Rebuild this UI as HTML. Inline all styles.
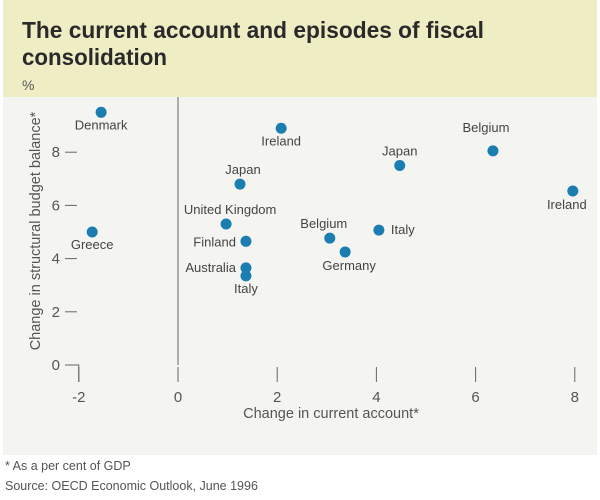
<!DOCTYPE html>
<html><head><meta charset="utf-8"><style>
body{margin:0;width:600px;height:495px;background:#fff;font-family:"Liberation Sans",sans-serif;overflow:hidden}
</style></head><body>
<svg width="600" height="495" xmlns="http://www.w3.org/2000/svg">
<rect x="3" y="0" width="594" height="97" fill="#eeedc4"/>
<rect x="3" y="97" width="594" height="358" fill="#f4f4f1"/>
<text x="22" y="38" font-size="23" font-weight="bold" fill="#2a2a2a" textLength="462" lengthAdjust="spacingAndGlyphs">The current account and episodes of fiscal</text>
<text x="22" y="65" font-size="23" font-weight="bold" fill="#2a2a2a" textLength="145" lengthAdjust="spacingAndGlyphs">consolidation</text>
<text x="22" y="90" font-size="14" fill="#555">%</text>
<text transform="translate(40,231) rotate(-90)" text-anchor="middle" font-size="14.5" fill="#555">Change in structural budget balance*</text>
<text x="331" y="418" text-anchor="middle" font-size="14.5" fill="#555">Change in current account*</text>
<text x="5" y="470" font-size="12.5" fill="#555">*  As a per cent of GDP</text>
<text x="5" y="490" font-size="12.5" fill="#555">Source: OECD Economic Outlook, June 1996</text>
<g id="axes"></g>
<g id="marks"></g>
</svg>
<script>
const countries=["Denmark","Greece","Ireland","Japan","United Kingdom","Finland","Australia","Italy","Belgium","Germany","Italy","Japan","Belgium","Ireland"];
const xValues=[-1.55,-1.73,2.08,1.25,0.97,1.37,1.37,1.37,3.06,3.37,4.05,4.47,6.35,7.96];
const yValues=[9.5,5.0,8.9,6.8,5.3,4.65,3.65,3.35,4.77,4.25,5.07,7.5,8.05,6.54];
const xTicks=[-2,0,2,4,6,8];
const yTicks=[0,2,4,6,8];
const labelOffsets=[[0,17,"s"],[0,17,"s"],[0,17,"s"],[3,-10,"m"],[4,-10,"m"],[-10,5,"e"],[-10,4,"e"],[0,17,"s"],[-6,-10,"m"],[4,18,"s"],[12,4,"st"],[0,-10,"m"],[-7,-19,"m"],[-6,18,"m"]];
const NS="http://www.w3.org/2000/svg";
const xs=v=>178+v*49.6, ys=v=>365-v*26.6;
const ax=document.getElementById('axes'), mk=document.getElementById('marks');
function el(t,a,p){const e=document.createElementNS(NS,t);for(const k in a)e.setAttribute(k,a[k]);p.appendChild(e);return e;}
const zl=el('line',{x1:xs(0),x2:xs(0),y1:97,y2:365,stroke:'#666','stroke-width':1},ax);


const cr=el('polyline',{points:`${xs(-2)-12},${ys(0)} ${xs(-2)},${ys(0)} ${xs(-2)},${ys(0)+17}`,fill:'none',stroke:'#666'},ax);


xTicks.forEach(v=>{
 const l=el('line',{x1:xs(v),x2:xs(v),y1:ys(0)+2,y2:ys(0)+17,stroke:'#666'},ax);
 
 
 const t=el('text',{x:xs(v),y:ys(0)+37,'text-anchor':'middle','font-size':15,fill:'#555'},ax);t.textContent=v;
 
 
});
yTicks.forEach(v=>{
 const l=el('line',{x1:65,x2:77,y1:ys(v),y2:ys(v),stroke:'#666'},ax);
 
 
 const t=el('text',{x:60,y:ys(v)+5,'text-anchor':'end','font-size':15,fill:'#555'},ax);t.textContent=v;
 
 
});
countries.forEach((c,i)=>{
 const cx=xs(xValues[i]),cy=ys(yValues[i]);
 const d=el('circle',{cx,cy,r:5.5,fill:'#1b7db0'},mk);
 
 
 const o=labelOffsets[i];
 const anc=o[2]==='e'?'end':(o[2]==='st'?'start':'middle');
 const t=el('text',{x:cx+o[0],y:cy+o[1],'text-anchor':anc,'font-size':13,fill:'#444'},mk);t.textContent=c;
 
 
});
</script>
</body></html>
